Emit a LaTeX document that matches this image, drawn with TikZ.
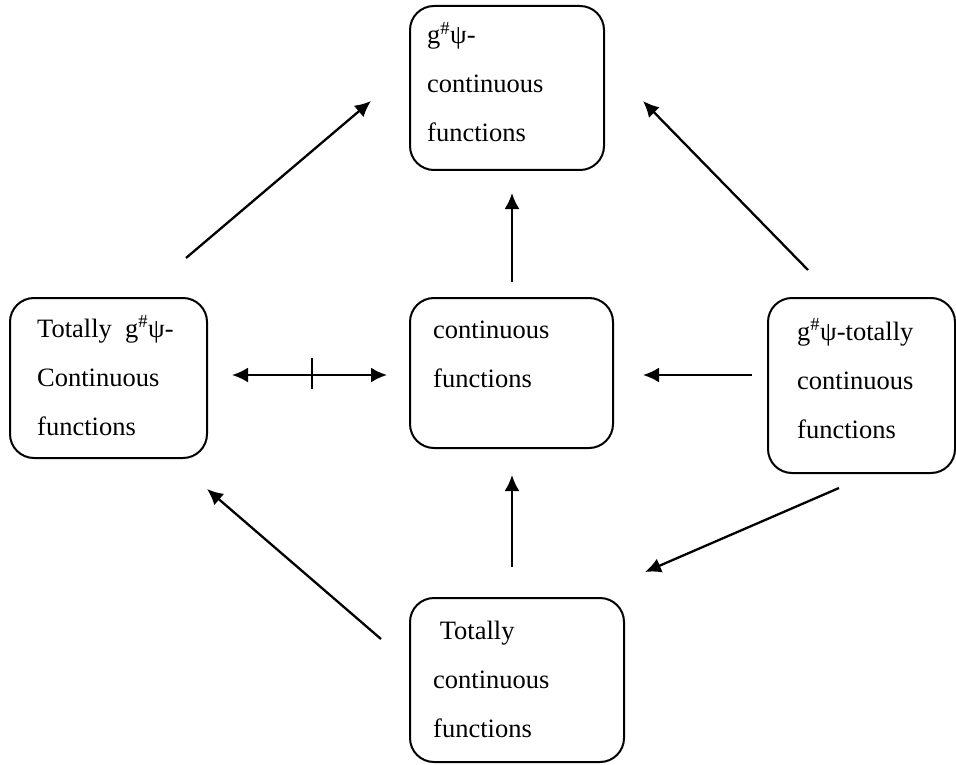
\documentclass[tikz,border=0pt]{standalone}
\usepackage{fontspec}
\setmainfont{Liberation Serif}
\usetikzlibrary{arrows.meta}
\begin{document}
\begin{tikzpicture}[x=1pt,y=-1pt,
  box/.style={draw,line width=2pt,rounded corners=24pt},
  txt/.style={anchor=base west,inner sep=0pt,align=left,font=\fontsize{26.5}{49}\selectfont},
  tip/.style={Latex[length=16pt,width=15pt]},
  arr/.style={line width=2.3pt,-{Latex[length=16pt,width=15pt]}},
  darr/.style={line width=2.3pt,{Latex[length=16pt,width=15pt]}-{Latex[length=16pt,width=15pt]}}]
\useasboundingbox (0,0) rectangle (956,765);
% boxes
\draw[box] (410,6) rectangle (604,170);
\draw[box] (10,298) rectangle (207,458);
\draw[box] (410,298) rectangle (613,448);
\draw[box] (768,298) rectangle (955,473);
\draw[box] (410,598) rectangle (624,762);
% texts (anchored at the baseline of the last line)
\node[txt] (ttop) at (427,142) {g\textsuperscript{\#}ψ-\\continuous\\functions};
\node[txt] (tleft) at (37,435) {Totally~~g\textsuperscript{\#}ψ-\\Continuous\\functions};
\node[txt] (tcen) at (433,387) {continuous\\functions};
\node[txt] (tright) at (797,438) {g\textsuperscript{\#}ψ-totally\\continuous\\functions};
\node[txt] (tbot) at (433,737) {~Totally\\continuous\\functions};
% arrow endpoints
\coordinate (a1s) at (186,258); \coordinate (a1e) at (371,101);
\coordinate (a2s) at (512,282); \coordinate (a2e) at (512,193);
\coordinate (a3s) at (808,270); \coordinate (a3e) at (643,101);
\coordinate (a4s) at (232,375); \coordinate (a4e) at (387,375);
\coordinate (a5s) at (752,375); \coordinate (a5e) at (643,375);
\coordinate (a6s) at (512,567); \coordinate (a6e) at (512,475);
\coordinate (a7s) at (381,639); \coordinate (a7e) at (207,489);
\coordinate (a8s) at (839,488); \coordinate (a8e) at (645,572);
\coordinate (t1) at (312,358); \coordinate (t2) at (312,389);
\draw[arr] (a1s) -- (a1e);
\draw[arr] (a2s) -- (a2e);
\draw[arr] (a3s) -- (a3e);
\draw[darr] (a4s) -- (a4e);
\draw[line width=1.6pt] (t1) -- (t2);
\draw[arr] (a5s) -- (a5e);
\draw[arr] (a6s) -- (a6e);
\draw[arr] (a7s) -- (a7e);
\draw[arr] (a8s) -- (a8e);
\end{tikzpicture}
\end{document}
